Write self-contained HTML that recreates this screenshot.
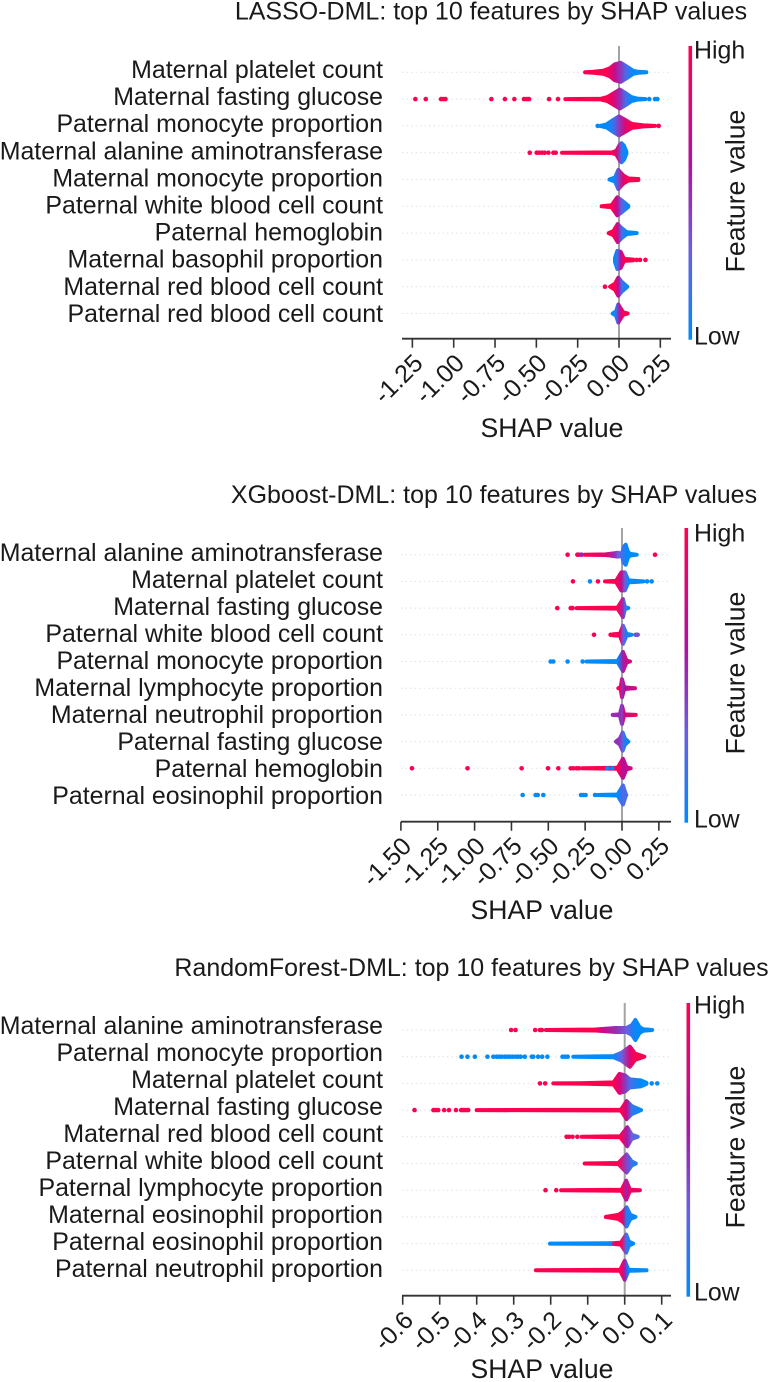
<!DOCTYPE html>
<html lang="en">
<head>
<meta charset="utf-8">
<title>Top 10 features by SHAP values</title>
<style>
html,body{margin:0;padding:0;background:#fff;}
svg{display:block;font-family:"Liberation Sans",Arial,sans-serif;fill:#1a1a1a;}
</style>
</head>
<body>
<svg id="chart" xmlns="http://www.w3.org/2000/svg" width="768" height="1382" viewBox="0 0 768 1382"></svg>
<script>
/* ---------- LASSO-DML ---------- */
const lassoTitle = "LASSO-DML: top 10 features by SHAP values";
const lassoFeatures = ["Maternal platelet count","Maternal fasting glucose","Paternal monocyte proportion","Maternal alanine aminotransferase","Maternal monocyte proportion","Paternal white blood cell count","Paternal hemoglobin","Maternal basophil proportion","Maternal red blood cell count","Paternal red blood cell count"];
const lassoTicks = [-1.25,-1.00,-0.75,-0.50,-0.25,0.00,0.25];
const lassoTickLabels = ["-1.25","-1.00","-0.75","-0.50","-0.25","0.00","0.25"];
/* swarm profile: [shap value, swarm half-density, feature value] */
const lassoSwarms = [
[[-.205,0,1],[-.155,.5,1],[-.095,1.5,1],[-.055,4,.9],[-.025,8,.7],[.01,9.5,.45],[.045,6,.2],[.085,1.5,0],[.115,.5,0],[.165,0,0]],
[[-.325,0,1],[-.11,.3,1],[-.07,2,1],[-.03,6,.8],[.005,9.5,.5],[.04,6,.2],[.075,2,0],[.11,.5,0],[.16,0,0]],
[[-.115,0,0],[-.075,1.5,0],[-.035,6,.15],[0,9.5,.45],[.036,6,.8],[.077,2,1],[.147,.5,1],[.218,0,1]],
[[-.345,0,1],[-.04,.3,1],[-.015,2,.8],[.005,8,.4],[.015,9.5,.15],[.03,7,.05],[.045,1,0]],
[[-.058,0,0],[-.024,2,.05],[-.004,9.5,.4],[.026,4,.85],[.056,1,1],[.117,.5,1]],
[[-.105,0,1],[-.044,1,1],[-.01,9,.65],[.016,6,.25],[.056,.5,0]],
[[-.0625,0,1],[-.034,2,1],[-.008,9,.7],[.016,5,.2],[.046,1,0],[.107,0,0]],
[[-.024,2,0],[-.01,9,.2],[.01,8,.6],[.03,1,1],[.087,.3,1]],
[[-.054,0,1],[-.024,3,1],[-.004,9,.6],[.016,5,.2],[.05,0,0]],
[[-.038,0,0],[-.018,2,.1],[-.004,9,.5],[.01,5,.7],[.026,1,1],[.052,0,1]]
];
/* isolated points: [shap value, feature value] */
const lassoOutliers = [
[],
[[-1.232,1],[-1.169,1],[-1.077,1],[-1.063,1],[-1.05,1],[-.772,1],[-.69,1],[-.633,1],[-.575,1],[-.558,1],[-.544,1],[-.423,1],[-.369,1],[.183,0],[.218,0],[.232,0]],
[[-.129,0],[.24,1]],
[[-.54,1],[-.498,1],[-.482,1],[-.466,1],[-.45,1],[-.427,1],[-.397,1],[-.383,1]],
[],[],[],
[[.107,1],[.127,1],[.16,1]],
[[-.085,1]],
[]
];

/* ---------- XGboost-DML ---------- */
const xgbTitle = "XGboost-DML: top 10 features by SHAP values";
const xgbFeatures = ["Maternal alanine aminotransferase","Maternal platelet count","Maternal fasting glucose","Paternal white blood cell count","Paternal monocyte proportion","Maternal lymphocyte proportion","Maternal neutrophil proportion","Paternal fasting glucose","Paternal hemoglobin","Paternal eosinophil proportion"];
const xgbTicks = [-1.50,-1.25,-1.00,-0.75,-0.50,-0.25,0.00,0.25];
const xgbTickLabels = ["-1.50","-1.25","-1.00","-0.75","-0.50","-0.25","0.00","0.25"];
const xgbSwarms = [
[[-.255,0,1],[-.11,.3,.85],[-.05,1.5,.5],[-.03,2,.3],[0,1,.2],[.012,8,.1],[.025,10,.05],[.04,3,0],[.055,.8,0],[.1,0,0]],
[[-.115,0,1],[-.04,.5,1],[-.005,9,.7],[.02,9,.3],[.043,1,0],[.145,0,0]],
[[-.308,0,1],[-.03,.5,1],[.007,9,.5],[.02,1,.2],[.043,0,0]],
[[-.059,.5,1],[-.014,1,.9],[.007,9,.3],[.03,1,.1],[.066,0,0]],
[[-.24,0,0],[-.03,.5,0],[.007,9.5,.55],[.03,1,.7],[.054,0,.8]],
[[-.025,0,1],[-.009,1,.8],[0,9,.45],[.014,1,.6],[.054,.3,.7],[.088,0,.8]],
[[-.063,0,.5],[-.014,.5,.5],[0,9,.4],[.014,.5,.7],[.093,0,1]],
[[-.041,0,.5],[-.014,3,.45],[.005,9,.25],[.02,3,.1],[.043,0,0]],
[[-.269,0,1],[-.03,.5,1],[.007,9.5,.6],[.03,1,.7],[.059,0,.8]],
[[-.167,0,0],[-.03,.5,0],[.007,9.5,.25],[.025,1,.2],[.03,0,.2]]
];
const xgbOutliers = [
[[-.369,1],[-.303,1],[-.292,.9],[-.274,.55],[.224,1]],
[[-.333,1],[-.217,0],[-.163,.95],[.201,0],[.17,0]],
[[-.439,1],[-.348,1],[-.335,1]],
[[-.19,1],[-.077,1],[.093,.35],[.106,.35]],
[[-.484,0],[-.466,0],[-.369,0],[-.267,0]],
[],[],[],
[[-1.425,1],[-1.048,1],[-.681,1],[-.502,1],[-.432,1],[-.348,1],[-.33,1],[-.308,1],[-.292,1],[-.1,0],[-.066,0]],
[[-.674,0],[-.586,0],[-.572,0],[-.534,0],[-.278,0],[-.262,0],[-.247,0],[-.183,0]]
];

/* ---------- RandomForest-DML ---------- */
const rfTitle = "RandomForest-DML: top 10 features by SHAP values";
const rfFeatures = ["Maternal alanine aminotransferase","Paternal monocyte proportion","Maternal platelet count","Maternal fasting glucose","Maternal red blood cell count","Paternal white blood cell count","Paternal lymphocyte proportion","Maternal eosinophil proportion","Paternal eosinophil proportion","Paternal neutrophil proportion"];
const rfTicks = [-0.6,-0.5,-0.4,-0.3,-0.2,-0.1,0.0,0.1];
const rfTickLabels = ["-0.6","-0.5","-0.4","-0.3","-0.2","-0.1","0.0","0.1"];
const rfSwarms = [
[[-.213,0,1],[-.08,.5,1],[-.06,1,.7],[-.025,2,.5],[.005,2,.3],[.02,5,.1],[.029,10,.03],[.04,3,0],[.05,.7,0],[.074,0,0]],
[[-.139,0,0],[-.03,.6,0],[-.008,4,.3],[.014,10,.8],[.028,3,1],[.053,0,1]],
[[-.193,0,1],[-.12,.2,1],[-.03,1,1],[-.014,9.5,.8],[.001,8,.45],[.014,4,.2],[.043,3,0],[.059,.5,0]],
[[-.4,0,1],[-.01,.4,1],[.005,9,.7],[.019,4,.15],[.044,0,0]],
[[-.116,0,1],[-.012,.5,1],[.007,9.5,.55],[.019,2,.3],[.035,0,.2]],
[[-.108,0,1],[-.017,.5,1],[.005,9,.4],[.019,2,.15],[.03,0,.1]],
[[-.172,0,1],[-.008,.5,1],[.004,9.5,.55],[.014,.5,.9],[.041,0,.9]],
[[-.051,0,1],[-.017,2,1],[-.005,5,.8],[.005,9.5,.1],[.015,2,.05],[.029,0,0]],
[[-.202,0,0],[-.045,.3,0],[-.03,.3,.9],[-.01,1,1],[.004,9,.2],[.011,2,.05],[.023,0,0]],
[[-.24,0,1],[-.012,.5,1],[0,9.5,.55],[.01,.5,0],[.059,0,0]]
];
const rfOutliers = [
[[-.307,1],[-.295,1],[-.242,1],[-.229,1],[-.224,1]],
[[-.441,0],[-.425,0],[-.405,0],[-.371,0],[-.355,0],[-.346,0],[-.339,0],[-.332,0],[-.324,0],[-.317,0],[-.31,0],[-.303,0],[-.295,0],[-.288,0],[-.281,0],[-.27,0],[-.251,0],[-.247,0],[-.234,0],[-.223,0],[-.209,0],[-.168,0],[-.161,0],[-.154,0]],
[[-.229,1],[-.215,1],[.073,0],[.088,0]],
[[-.568,1],[-.517,1],[-.511,1],[-.504,1],[-.488,1],[-.475,1],[-.456,1],[-.442,1],[-.436,1],[-.43,1],[-.423,1]],
[[-.157,1],[-.15,1],[-.141,1],[-.128,1]],
[],
[[-.214,1],[-.185,1]],
[],
[[-.04,0]],
[]
];

/* ---------- layout (pixels, not data) ---------- */
const panels = [
 {key:"lasso",title:lassoTitle,features:lassoFeatures,ticks:lassoTicks,tickLabels:lassoTickLabels,swarms:lassoSwarms,outliers:lassoOutliers,
  zero:619,unit:165.3,axisY:338.7,top:46,rowTop:72.3,rowStep:26.8,labelTop:78,labelStep:27.1,left:402,right:671,titleX:491,titleY:19.5,cbX:688.5,nameX:552,nameY:437,fvX:744.5,fvY:191,hiY:58.5,loY:344.5},
 {key:"xgboost",title:xgbTitle,features:xgbFeatures,ticks:xgbTicks,tickLabels:xgbTickLabels,swarms:xgbSwarms,outliers:xgbOutliers,
  zero:622,unit:147.4,axisY:821.7,top:528,rowTop:554.7,rowStep:26.7,labelTop:561,labelStep:27,left:401,right:671,titleX:494,titleY:503,cbX:684.5,nameX:542,nameY:919,fvX:744.5,fvY:673,hiY:541.5,loY:827.5},
 {key:"randomforest",title:rfTitle,features:rfFeatures,ticks:rfTicks,tickLabels:rfTickLabels,swarms:rfSwarms,outliers:rfOutliers,
  zero:624.7,unit:370,axisY:1295.7,top:1003,rowTop:1030,rowStep:26.7,labelTop:1034,labelStep:27,left:402,right:671,titleX:471.5,titleY:976,cbX:686.5,nameX:542,nameY:1378,fvX:744.5,fvY:1147,hiY:1013.5,loY:1300.5}
];

const NS = "http://www.w3.org/2000/svg";
const root = document.getElementById("chart");
const defs = document.createElementNS(NS,"defs");
root.appendChild(defs);

function mk(tag, attrs, parent, text){
  const el = document.createElementNS(NS, tag);
  for (const k in attrs) el.setAttribute(k, attrs[k]);
  if (text !== undefined) el.textContent = text;
  (parent || root).appendChild(el);
  return el;
}
/* red-blue SHAP colour map */
const cmapStops = [[0,[0,139,251]],[.3,[106,95,224]],[.6,[176,17,158]],[1,[255,0,81]]];
function colorOf(v){
  v = Math.max(0, Math.min(1, v));
  for (let i=1;i<cmapStops.length;i++){
    const a = cmapStops[i-1], b = cmapStops[i];
    if (v <= b[0]){
      const t = (v-a[0])/(b[0]-a[0]);
      return "rgb("+a[1].map((c,j)=>Math.round(c+(b[1][j]-c)*t)).join(",")+")";
    }
  }
  return "rgb(255,0,81)";
}
const densityPx = d => d;
const DOT_R = 2.3;

panels.forEach(function(p){
  const xScale = v => p.zero + v*p.unit;
  const yScale = i => p.rowTop + i*p.rowStep;

  const g = mk("g",{});
  
  

  const title = mk("text",{x:p.titleX,y:p.titleY,"text-anchor":"middle","font-size":"25"},g,p.title);
  
  

  p.features.forEach(function(name,i){
    const y = yScale(i);
    const guide = mk("line",{x1:p.left,x2:p.right,y1:y,y2:y,stroke:"#ccc","stroke-width":1,"stroke-dasharray":"1.5 3","stroke-opacity":.6},g);
    
    

    const label = mk("text",{x:383,y:p.labelTop+i*p.labelStep,"text-anchor":"end","font-size":"24.9"},g,name);
    
    
  });

  const zeroLine = mk("line",{x1:p.zero,x2:p.zero,y1:p.top,y2:p.axisY,stroke:"#a3a3a3","stroke-width":2},g);
  
  

  p.swarms.forEach(function(prof,i){
    const y = yScale(i);
    const x0 = xScale(prof[0][0]), x1 = xScale(prof[prof.length-1][0]);
    const gid = p.key+"-grad-"+i;
    const lg = mk("linearGradient",{id:gid,gradientUnits:"userSpaceOnUse",x1:x0,x2:Math.max(x1,x0+1),y1:0,y2:0},defs);
    prof.forEach(function(b){
      const off = (xScale(b[0])-x0)/Math.max(x1-x0,1);
      mk("stop",{offset:off,"stop-color":colorOf(b[2])},lg);
    });
    const topPts = prof.map(b => xScale(b[0]).toFixed(1)+","+(y-densityPx(b[1])).toFixed(1));
    const botPts = prof.slice().reverse().map(b => xScale(b[0]).toFixed(1)+","+(y+densityPx(b[1])).toFixed(1));
    const swarm = mk("path",{d:"M"+topPts.join("L")+"L"+botPts.join("L")+"Z",fill:"url(#"+gid+")",stroke:"url(#"+gid+")","stroke-width":4,"stroke-linejoin":"round"},g);
    
    

    p.outliers[i].forEach(function(o){
      const dot = mk("circle",{cx:xScale(o[0]),cy:y,r:DOT_R,fill:colorOf(o[1])},g);
      
      
    });
  });

  const axis = mk("line",{x1:p.left,x2:p.right,y1:p.axisY,y2:p.axisY,stroke:"#333","stroke-width":1.8},g);
  
  

  p.ticks.forEach(function(t,i){
    const x = xScale(t);
    const tick = mk("line",{x1:x,x2:x,y1:p.axisY,y2:p.axisY+9,stroke:"#333","stroke-width":1.6},g);
    
    

    const lx = x+12, ly = p.axisY+26;
    const tl = mk("text",{x:lx,y:ly,"text-anchor":"end","font-size":"25",transform:"rotate(-45 "+lx+" "+ly+")"},g,p.tickLabels[i]);
    
    
  });

  const xt = mk("text",{x:p.nameX,y:p.nameY,"text-anchor":"middle","font-size":"26.6"},g,"SHAP value");
  
  

  const cgid = p.key+"-cbar";
  const cg = mk("linearGradient",{id:cgid,x1:0,x2:0,y1:1,y2:0},defs);
  cmapStops.forEach(function(s){
    mk("stop",{offset:s[0],"stop-color":colorOf(s[0])},cg);
  });
  const cb = mk("rect",{x:p.cbX,y:p.top,width:3.6,height:p.axisY-p.top+1,fill:"url(#"+cgid+")"},g);
  
  

  const hi = mk("text",{x:694,y:p.hiY,"font-size":"24.9"},g,"High");
  
  

  const lo = mk("text",{x:694,y:p.loY,"font-size":"24.9"},g,"Low");
  
  

  const fv = mk("text",{x:p.fvX,y:p.fvY,"text-anchor":"middle","font-size":"26.6",transform:"rotate(-90 "+p.fvX+" "+p.fvY+")"},g,"Feature value");
  
  
});
</script>
</body>
</html>
